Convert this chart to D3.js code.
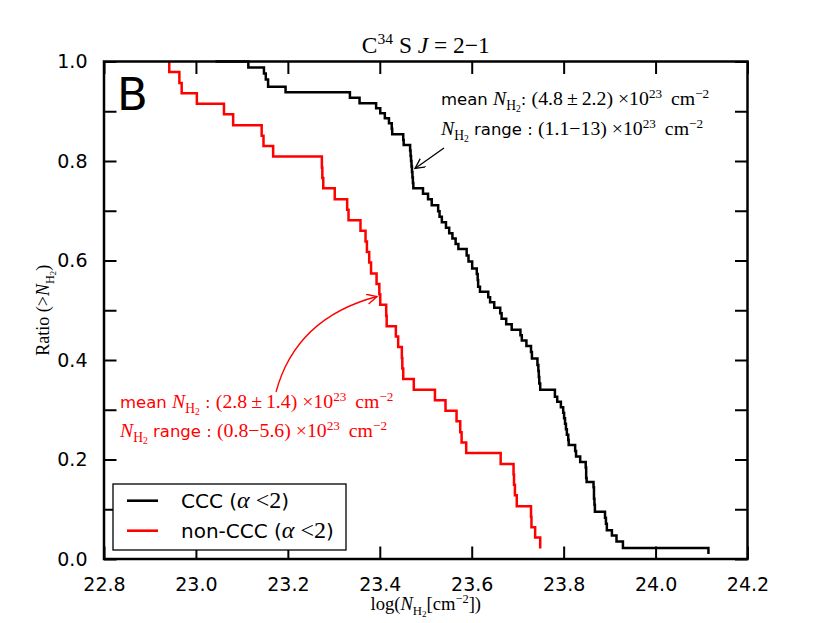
<!DOCTYPE html>
<html>

<head>
  <meta charset="utf-8">
  <title>C34S J=2-1</title>
  <style>
    body { margin: 0; background: #fff; }
    text { white-space: pre; }
  </style>
</head>

<body>

  <svg id="main" width="830" height="623"></svg>

  <script src="https://cdn.jsdelivr.net/npm/d3@7"></script>
  <script>

    // log N_H2 where each step of the CCC curve starts, and the ratio after it
    const cccLogN = [
      23.042, 23.114, 23.148, 23.152, 23.157, 23.195, 23.335, 23.356, 23.392, 23.401,
      23.411, 23.420, 23.426, 23.427, 23.451, 23.452, 23.466, 23.467, 23.468, 23.469,
      23.470, 23.471, 23.472, 23.473, 23.494, 23.505, 23.513, 23.527, 23.530, 23.535,
      23.544, 23.551, 23.558, 23.565, 23.571, 23.589, 23.593, 23.601, 23.611, 23.613,
      23.614, 23.618, 23.636, 23.640, 23.649, 23.662, 23.665, 23.675, 23.687, 23.706,
      23.709, 23.719, 23.729, 23.731, 23.743, 23.745, 23.746, 23.747, 23.749, 23.781,
      23.786, 23.794, 23.799, 23.801, 23.803, 23.805, 23.807, 23.810, 23.811, 23.825,
      23.827, 23.836, 23.848, 23.849, 23.849, 23.850, 23.865, 23.866, 23.866, 23.867,
      23.868, 23.890, 23.892, 23.894, 23.905, 23.915, 23.929, 24.115
    ]
    const cccRatio = [
      1.000, 0.988, 0.976, 0.964, 0.949, 0.938, 0.927, 0.916, 0.906, 0.896,
      0.886, 0.876, 0.865, 0.854, 0.842, 0.832, 0.821, 0.810, 0.800, 0.789,
      0.778, 0.767, 0.756, 0.745, 0.734, 0.723, 0.711, 0.699, 0.688, 0.677,
      0.666, 0.655, 0.644, 0.633, 0.623, 0.610, 0.598, 0.584, 0.573, 0.561,
      0.547, 0.537, 0.526, 0.516, 0.505, 0.494, 0.483, 0.472, 0.461, 0.450,
      0.439, 0.428, 0.416, 0.403, 0.390, 0.378, 0.366, 0.353, 0.340, 0.326,
      0.316, 0.305, 0.294, 0.283, 0.272, 0.261, 0.250, 0.239, 0.229, 0.217,
      0.206, 0.195, 0.184, 0.173, 0.163, 0.155, 0.144, 0.133, 0.121, 0.109,
      0.095, 0.083, 0.071, 0.058, 0.047, 0.035, 0.022, 0.010
    ]

    const nonLogN = [
      22.942, 22.942, 22.964, 22.969, 23.002, 23.061, 23.081, 23.143, 23.147, 23.168,
      23.274, 23.275, 23.277, 23.302, 23.329, 23.332, 23.358, 23.369, 23.372, 23.377,
      23.381, 23.393, 23.399, 23.401, 23.414, 23.415, 23.435, 23.440, 23.448, 23.449,
      23.451, 23.474, 23.520, 23.543, 23.567, 23.575, 23.578, 23.588, 23.663, 23.691,
      23.692, 23.694, 23.698, 23.729, 23.730, 23.738, 23.749
    ]
    const nonRatio = [
      1.000, 0.979, 0.957, 0.936, 0.915, 0.894, 0.872, 0.851, 0.830, 0.809,
      0.787, 0.766, 0.745, 0.723, 0.702, 0.681, 0.660, 0.638, 0.617, 0.596,
      0.574, 0.553, 0.532, 0.511, 0.489, 0.468, 0.447, 0.426, 0.404, 0.383,
      0.362, 0.340, 0.319, 0.298, 0.277, 0.255, 0.234, 0.213, 0.191, 0.170,
      0.149, 0.128, 0.106, 0.085, 0.064, 0.043, 0.021
    ]

    const xTicks = [22.8, 23.0, 23.2, 23.4, 23.6, 23.8, 24.0, 24.2]
    const yTicks = [0, 0.1, 0.2, 0.3, 0.4, 0.5, 0.6, 0.7, 0.8, 0.9, 1.0]
    const yTickLabels = [0, 0.2, 0.4, 0.6, 0.8, 1.0]

    const svg = d3.select('#main')
    const margin = { top: 61.5, right: 82.5, bottom: 64, left: 104 }
    const width = +svg.attr('width')
    const height = +svg.attr('height')
    const innerWidth = width - margin.left - margin.right
    const innerHeight = height - margin.top - margin.bottom

    const SANS = 'DejaVu Sans, sans-serif'
    const SERIF = 'Liberation Serif, DejaVu Serif, serif'

    const x = d3.scaleLinear().domain([22.8, 24.2]).range([0, innerWidth])
    const y = d3.scaleLinear().domain([0, 1]).range([innerHeight, 0])

    const chart = svg.append('g')
      .attr('transform', `translate(${margin.left},${margin.top})`)

    // text with sub/superscripts built from tspans
    const styles = {
      s: { family: SANS, scale: 1, shift: 0 },
      r: { family: SERIF, scale: 1.2, shift: 0 },
      i: { family: SERIF, scale: 1.2, shift: 0, italic: true },
      sub: { family: SERIF, scale: 0.82, shift: 0.3 },
      sub2: { family: SERIF, scale: 0.58, shift: 0.45 },
      sup: { family: SERIF, scale: 0.8, shift: -0.45 }
    }
    function richText(g, px, py, parts, size, color, anchor) {
      const t = g.append('text')
        .attr('x', px).attr('y', py)
        .attr('font-size', size)
        .attr('fill', color || '#000')
        .attr('text-anchor', anchor || 'start')
      let shift = 0
      parts.forEach(([s, k]) => {
        const st = styles[k]
        const target = st.shift * size
        t.append('tspan').text(s)
          .attr('dy', target - shift)
          .attr('font-family', st.family)
          .attr('font-style', st.italic ? 'italic' : 'normal')
          .attr('font-size', size * st.scale)
        shift = target
      })
      return t
    }

    // step curves
    const stepLine = d3.line()
      .x(d => x(d[0]))
      .y(d => y(d[1]))
      .curve(d3.curveStepAfter)

    chart.append('path')
      .datum(d3.zip(cccLogN, cccRatio))
      .attr('d', stepLine)
      .attr('fill', 'none')
      .attr('stroke', '#000')
      .attr('stroke-width', 2.5)

    chart.append('path')
      .datum(d3.zip(nonLogN, nonRatio))
      .attr('d', stepLine)
      .attr('fill', 'none')
      .attr('stroke', '#ff0000')
      .attr('stroke-width', 2.5)

    // axes, ticks pointing inward on all four sides
    const tickLen = 12.5
    function styleAxis(g) {
      g.select('.domain').remove()
      g.selectAll('.tick line').attr('stroke', '#000').attr('stroke-width', 2)
      g.selectAll('.tick text').attr('font-family', SANS).attr('font-size', 19).attr('fill', '#000')
      g.selectAll('.tick text').filter(function () { return !this.textContent }).remove()
    }

    chart.append('g')
      .attr('transform', `translate(0,${innerHeight})`)
      .call(d3.axisBottom(x).tickValues(xTicks).tickSizeInner(-tickLen).tickSizeOuter(0)
        .tickPadding(tickLen + 6).tickFormat(d3.format('.1f')))
      .call(styleAxis)

    chart.append('g')
      .call(d3.axisTop(x).tickValues(xTicks).tickSizeInner(-tickLen).tickSizeOuter(0).tickFormat(''))
      .call(styleAxis)

    chart.append('g')
      .call(d3.axisLeft(y).tickValues(yTicks).tickSizeInner(-tickLen).tickSizeOuter(0)
        .tickPadding(tickLen + 4).tickFormat(d => yTickLabels.some(v => Math.abs(v - d) < 1e-9) ? d3.format('.1f')(d) : ''))
      .call(styleAxis)

    chart.append('g')
      .attr('transform', `translate(${innerWidth},0)`)
      .call(d3.axisRight(y).tickValues(yTicks).tickSizeInner(-tickLen).tickSizeOuter(0).tickFormat(''))
      .call(styleAxis)

    chart.append('rect')
      .attr('width', innerWidth)
      .attr('height', innerHeight)
      .attr('fill', 'none')
      .attr('stroke', '#000')
      .attr('stroke-width', 2.5)

    // panel letter
    chart.append('text').text('B')
      .attr('x', 13).attr('y', 48)
      .attr('font-family', SANS)
      .attr('font-size', 45)

    // title
    richText(svg, margin.left + innerWidth / 2, 53,
      [['C', 'r'], ['34', 'sup'], [' S ', 'r'], ['J', 'i'], [' = 2\u22121', 'r']], 19.5, '#000', 'middle')

    // axis labels
    richText(svg, margin.left + innerWidth / 2, 610,
      [['log(', 'r'], ['N', 'i'], ['H', 'sub'], ['2', 'sub2'], ['[cm', 'r'], ['\u22122', 'sup'], ['])', 'r']],
      15.5, '#000', 'middle')

    const ylab = svg.append('g').attr('transform', `translate(49,${margin.top + innerHeight / 2}) rotate(-90)`)
    richText(ylab, 0, 0,
      [['Ratio (', 'r'], ['>', 'r'], ['N', 'i'], ['H', 'sub'], ['2', 'sub2'], [')', 'r']],
      15, '#000', 'middle')

    // annotations
    richText(svg, 441, 105,
      [['mean ', 's'], ['N', 'i'], ['H', 'sub'], ['2', 'sub2'], [': ', 's'],
       ['(4.8\u2009\u00b1\u20092.2) \u00d710', 'r'], ['23', 'sup'], [' \u2009cm', 'r'], ['\u22122', 'sup']],
      16.5, '#000')
    richText(svg, 441, 135,
      [['N', 'i'], ['H', 'sub'], ['2', 'sub2'], [' range : ', 's'],
       ['(1.1\u221213) \u00d710', 'r'], ['23', 'sup'], [' \u2009cm', 'r'], ['\u22122', 'sup']],
      16.5, '#000')

    richText(svg, 120, 408,
      [['mean ', 's'], ['N', 'i'], ['H', 'sub'], ['2', 'sub2'], [' : ', 's'],
       ['(2.8\u2009\u00b1\u20091.4) \u00d710', 'r'], ['23', 'sup'], [' \u2009cm', 'r'], ['\u22122', 'sup']],
      16.5, '#ff0000')
    richText(svg, 120, 437,
      [['N', 'i'], ['H', 'sub'], ['2', 'sub2'], [' range : ', 's'],
       ['(0.8\u22125.6) \u00d710', 'r'], ['23', 'sup'], [' \u2009cm', 'r'], ['\u22122', 'sup']],
      16.5, '#ff0000')

    // arrow heads
    const defs = svg.append('defs')
    ;[['headK', '#000'], ['headR', '#ff0000']].forEach(([id, c]) => {
      defs.append('marker')
        .attr('id', id)
        .attr('markerUnits', 'userSpaceOnUse')
        .attr('markerWidth', 14).attr('markerHeight', 14)
        .attr('refX', 10).attr('refY', 5)
        .attr('orient', 'auto')
        .append('path')
        .attr('d', 'M0,0 L10,5 L0,10')
        .attr('fill', 'none')
        .attr('stroke', c)
        .attr('stroke-width', 1.3)
    })

    svg.append('path')
      .attr('d', 'M444,148 L415,168.5')
      .attr('stroke', '#000').attr('stroke-width', 1.3).attr('fill', 'none')
      .attr('marker-end', 'url(#headK)')

    svg.append('path')
      .attr('d', 'M276,392 Q296,318 377,296.5')
      .attr('stroke', '#ff0000').attr('stroke-width', 1.3).attr('fill', 'none')
      .attr('marker-end', 'url(#headR)')

    // legend
    const legend = svg.append('g')
    legend.append('rect')
      .attr('x', 113).attr('y', 484).attr('width', 233).attr('height', 66)
      .attr('fill', '#fff').attr('stroke', '#000').attr('stroke-width', 1.3)
    const legendItems = [['CCC (', '#000', 500.7], ['non-CCC (', '#ff0000', 530.7]]
    legendItems.forEach(([label, c, ly]) => {
      legend.append('line')
        .attr('x1', 127).attr('x2', 158).attr('y1', ly).attr('y2', ly)
        .attr('stroke', c).attr('stroke-width', 2.6)
      richText(legend, 181, ly + 7,
        [[label, 's'], ['\u03b1', 'i'], [' <2', 'r'], [')', 's']], 20, '#000')
    })

  </script>
</body>

</html>
